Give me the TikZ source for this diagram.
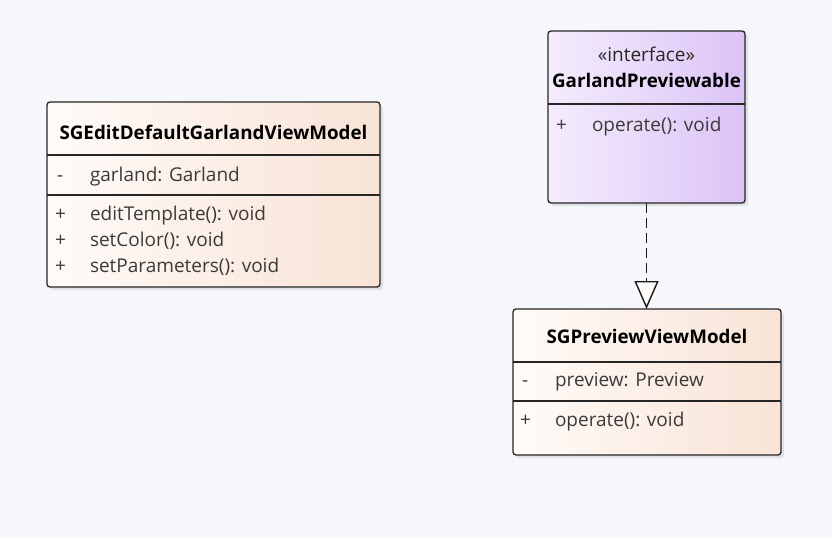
\documentclass[tikz,border=0pt]{standalone}
\usepackage{fontspec}
\setmainfont{Open Sans}
\usetikzlibrary{arrows.meta,shadows}

\definecolor{bgcol}{HTML}{F6F7FB}
\definecolor{classL}{HTML}{FFFBF8}
\definecolor{classR}{HTML}{F8E3D6}
\definecolor{ifaceL}{HTML}{F4EDFC}
\definecolor{ifaceR}{HTML}{DCC3F6}
\definecolor{membcol}{HTML}{3C3A38}

\begin{document}
\begin{tikzpicture}[x=1pt,y=-1pt, every node/.style={inner sep=0pt, outer sep=0pt},
  box/.style={draw=black!85, line width=1.3pt, rounded corners=3pt,
    drop shadow={opacity=0.18, shadow xshift=3pt, shadow yshift=-3pt}},
  classbox/.style={box, left color=classL, right color=classR},
  ifacebox/.style={box, left color=ifaceL, right color=ifaceR},
  title/.style={font=\fontsize{18.8}{22}\selectfont\bfseries, text=black,
    text height=13pt, text depth=2.5pt},
  member/.style={font=\fontsize{19}{22}\selectfont, text=membcol, anchor=west,
    text height=13.5pt, text depth=2pt},
  sep/.style={draw=black!85, line width=1.3pt},
  realize/.style={draw=black!90, line width=1.4pt, dash pattern=on 10pt off 5pt,
    -{Triangle[length=28pt, width=24pt, fill=classL]}}]

\useasboundingbox[fill=bgcol] (0,0) rectangle (832,538);

% left class
\node[classbox, minimum width=333pt, minimum height=185pt] (edit) at (213.5,194.5) {};
\node[title] (editname) at (213.5,134) {SGEditDefaultGarlandViewModel};
\draw[sep] (47,155) -- (380,155);
\node[member] (editvis1) at (57,176) {-};
\node[member] (editattr) at (90,176) {garland: Garland};
\draw[sep] (47,195) -- (380,195);
\node[member] (editvis2) at (55,215) {+};
\node[member] (editop1) at (90,215) {editTemplate(): void};
\node[member] (editvis3) at (55,241) {+};
\node[member] (editop2) at (90,241) {setColor(): void};
\node[member] (editvis4) at (55,267) {+};
\node[member] (editop3) at (90,267) {setParameters(): void};

% interface
\node[ifacebox, minimum width=197pt, minimum height=172pt] (iface) at (646.5,117) {};
\node[member, anchor=center, text=black!85] (ifacestereo) at (646.5,56) {«interface»};
\node[title] (ifacename) at (646.5,82) {GarlandPreviewable};
\draw[sep] (548,104) -- (745,104);
\node[member] (ifacevis) at (556,126) {+};
\node[member] (ifaceop) at (592,126) {operate(): void};

% preview class
\node[classbox, minimum width=268pt, minimum height=146pt] (prev) at (647,382) {};
\node[title] (prevname) at (647,338) {SGPreviewViewModel};
\draw[sep] (513,362) -- (781,362);
\node[member] (prevvis1) at (522,381) {-};
\node[member] (prevattr) at (555,381) {preview: Preview};
\draw[sep] (513,401) -- (781,401);
\node[member] (prevvis2) at (520,421) {+};
\node[member] (prevop) at (555,421) {operate(): void};

\draw[realize] (iface.south) -- (iface.south |- prev.north);
\end{tikzpicture}
\end{document}
